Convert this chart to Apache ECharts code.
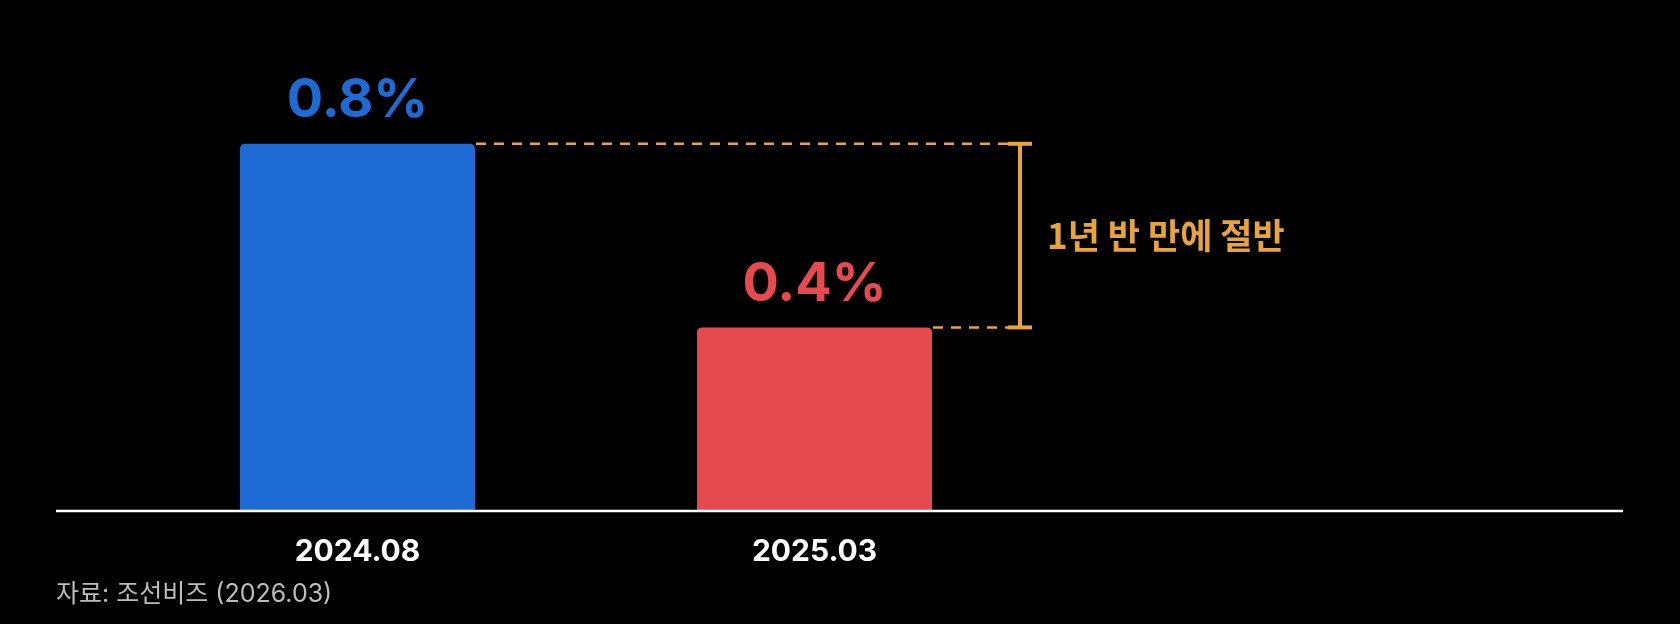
<!DOCTYPE html>
<html>
<head>
<meta charset="utf-8">
<script src="https://cdn.jsdelivr.net/npm/echarts@6/dist/echarts.min.js"></script>
<style>
  html, body { margin: 0; padding: 0; background: #000; }
  #main { width: 1680px; height: 624px; }
</style>
</head>
<body>
<div id="main"></div>
<script>
var categories = ['2024.08', '2025.03'];
var values = [0.8, 0.4];
var barColors = ['#1E6BD6', '#E64A4F'];
var noteText = '1년 반 만에 절반';
var sourceText = '자료: 조선비즈 (2026.03)';

var LATIN = 'Inter, "Noto Sans CJK KR", sans-serif';
var KOR = '"Noto Sans CJK KR", Inter, sans-serif';
var ORANGE = '#E8A33A';
var BAR_W = 235;

var myChart = echarts.init(document.getElementById('main'));

var option = {
    backgroundColor: '#000',
    animation: false,
    grid: { left: 129, right: 637, top: 52, bottom: 113 },
    xAxis: {
        type: 'category',
        data: categories,
        axisLine: { show: false },
        axisTick: { show: false },
        axisLabel: {
            color: '#fff',
            fontFamily: LATIN,
            fontWeight: 'bold',
            fontSize: 30,
            margin: 26
        }
    },
    yAxis: {
        type: 'value',
        min: 0,
        max: 1,
        show: false
    },
    series: [{
        type: 'bar',
        barWidth: BAR_W,
        data: values.map(function (v, i) {
            return {
                value: v,
                itemStyle: { color: barColors[i], borderRadius: [5, 5, 0, 0] },
                label: { color: barColors[i] }
            };
        }),
        label: {
            show: true,
            position: 'top',
            distance: 16,
            fontFamily: LATIN,
            fontWeight: 'bold',
            fontSize: 54,
            formatter: function (p) { return p.value + '%'; }
        }
    }]
};
myChart.setOption(option);

// 막대 위치를 축에서 읽어 주석을 그린다
var p0 = myChart.convertToPixel({ seriesIndex: 0 }, [0, values[0]]);
var p1 = myChart.convertToPixel({ seriesIndex: 0 }, [1, values[1]]);
var base = myChart.convertToPixel({ seriesIndex: 0 }, [0, 0]);
var bx = p1[0] + BAR_W / 2 + 88;
var dash = { stroke: ORANGE, lineWidth: 2.5, lineDash: [10, 8] };
var solid = { stroke: ORANGE, lineWidth: 4 };

myChart.setOption({
    graphic: [
        { type: 'line', shape: { x1: 56, y1: base[1], x2: 1623, y2: base[1] },
          style: { stroke: '#fff', lineWidth: 2.5 }, z: 10 },
        { type: 'line', shape: { x1: p0[0] + BAR_W / 2 + 1, y1: p0[1], x2: bx - 12, y2: p0[1] }, style: dash },
        { type: 'line', shape: { x1: p1[0] + BAR_W / 2 + 1, y1: p1[1], x2: bx - 12, y2: p1[1] }, style: dash },
        { type: 'line', shape: { x1: bx, y1: p0[1], x2: bx, y2: p1[1] }, style: solid },
        { type: 'line', shape: { x1: bx - 12, y1: p0[1], x2: bx + 12, y2: p0[1] }, style: solid },
        { type: 'line', shape: { x1: bx - 12, y1: p1[1], x2: bx + 12, y2: p1[1] }, style: solid },
        { type: 'text', x: bx + 27, y: (p0[1] + p1[1]) / 2,
          style: { text: noteText, fill: ORANGE, font: 'bold 35px ' + KOR, verticalAlign: 'middle' } },
        { type: 'text', x: 56, y: 594,
          style: { text: sourceText, fill: '#BDBDBD', font: '25px ' + LATIN, verticalAlign: 'middle' } }
    ]
});

window.addEventListener('resize', function () {
    myChart.resize();
});
</script>
</body>
</html>
